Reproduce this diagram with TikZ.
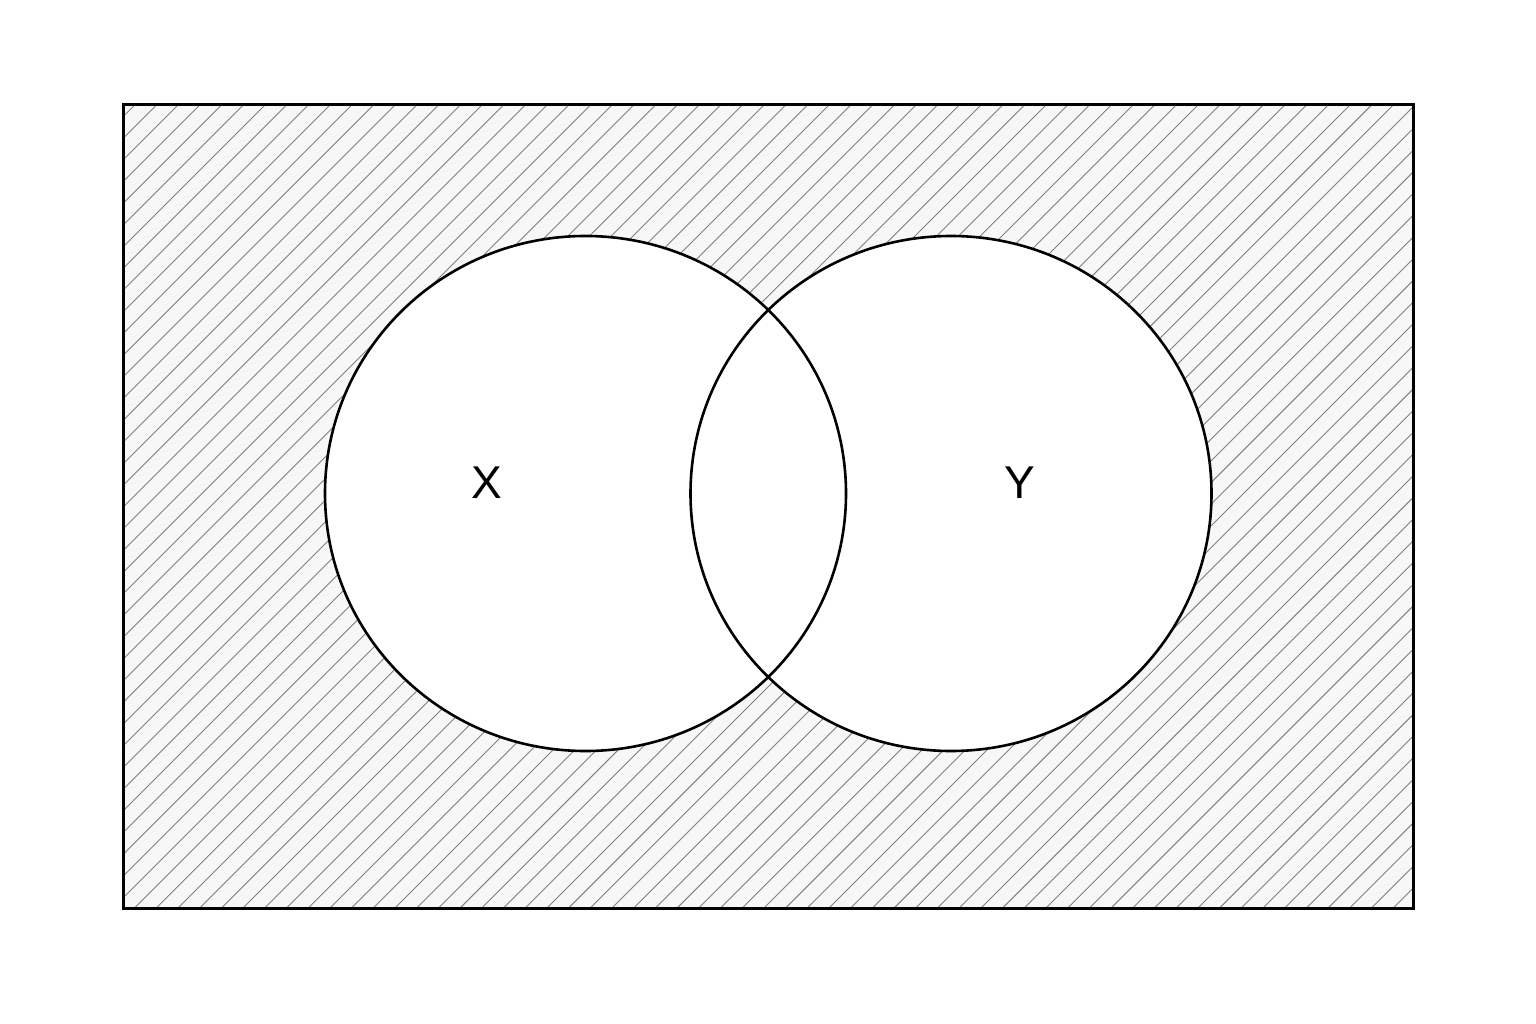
\documentclass[tikz,border=0pt]{standalone}
\usepackage{fontspec}
\setmainfont{Liberation Sans}
\usetikzlibrary{shapes.geometric}
\begin{document}
\begin{tikzpicture}[x=1pt,y=-1pt,
  hatch/.style={draw=black!50, line width=0.9pt},
  setcircle/.style={ellipse, draw=black, line width=2.6pt, minimum width=521pt, minimum height=515pt, inner sep=0pt},
  lbl/.style={font=\fontsize{46}{50}\selectfont, text=black}]
\useasboundingbox (0,0) rectangle (1536,1024);
\fill[black!3] (123,105) rectangle (1413,908);
\begin{scope}
\clip (123,105) rectangle (1413,908);
\foreach \i in {0,...,98} \draw[hatch] (-690+\i*21.7,908) -- ++(803,-803);
\end{scope}
\fill[white] (585.5,493.5) ellipse [x radius=260.5, y radius=257.5] (951,493.5) ellipse [x radius=260.5, y radius=257.5];
\node[setcircle] (cx) at (585.5,493.5) {};
\node[setcircle] (cy) at (951,493.5) {};
\node[draw=black, line width=3pt, minimum width=1290pt, minimum height=803pt, inner sep=0pt] (U) at (768,506.5) {};
\node[lbl] (lx) at (487,483) {X};
\node[lbl] (ly) at (1020,483) {Y};
\end{tikzpicture}
\end{document}
